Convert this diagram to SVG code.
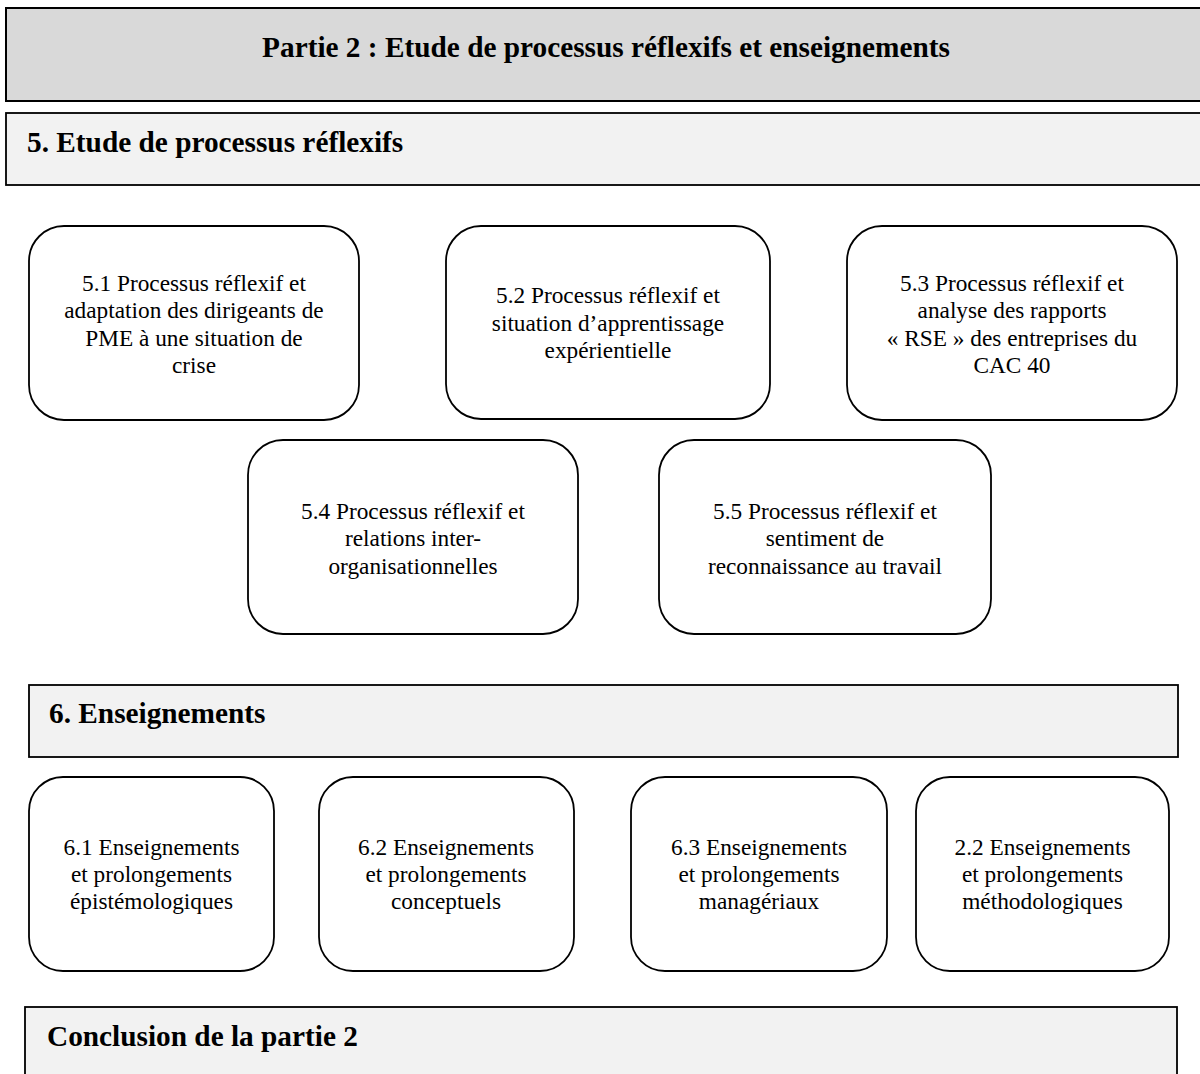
<svg xmlns="http://www.w3.org/2000/svg" width="1200" height="1074" viewBox="0 0 1200 1074">
<style>
.hdr{fill:#d9d9d9;stroke:#000;stroke-width:2}
.sec{fill:#f2f2f2;stroke:#000;stroke-width:1.8}
.node{fill:#fff;stroke:#000;stroke-width:1.8}
text{font-family:'Times New Roman','Liberation Serif',Tinos,serif;fill:#000}
.bt{font-weight:bold;font-size:29.3px}
.t{font-size:23.3px;text-anchor:middle}
</style>
<rect width="1200" height="1074" fill="#fff"/>
<g id="header">
<rect class="hdr" x="6" y="8" width="1210" height="93"/>
<text class="bt" x="606" y="57" text-anchor="middle">Partie 2 : Etude de processus réflexifs et enseignements</text>
</g>
<g id="section5">
<rect class="sec" x="6" y="113" width="1210" height="72"/>
<text class="bt" x="27" y="152">5. Etude de processus réflexifs</text>
</g>
<g id="n51">
<rect class="node" x="29" y="226" width="330" height="194" rx="35"/>
<text class="t" x="194" y="291">5.1 Processus réflexif et</text>
<text class="t" x="194" y="318">adaptation des dirigeants de</text>
<text class="t" x="194" y="346">PME à une situation de</text>
<text class="t" x="194" y="373">crise</text>
</g>
<g id="n52">
<rect class="node" x="446" y="226" width="324" height="193" rx="35"/>
<text class="t" x="608" y="303">5.2 Processus réflexif et</text>
<text class="t" x="608" y="331">situation d’apprentissage</text>
<text class="t" x="608" y="358">expérientielle</text>
</g>
<g id="n53">
<rect class="node" x="847" y="226" width="330" height="194" rx="35"/>
<text class="t" x="1012" y="291">5.3 Processus réflexif et</text>
<text class="t" x="1012" y="318">analyse des rapports</text>
<text class="t" x="1012" y="346">« RSE » des entreprises du</text>
<text class="t" x="1012" y="373">CAC 40</text>
</g>
<g id="n54">
<rect class="node" x="248" y="440" width="330" height="194" rx="35"/>
<text class="t" x="413" y="519">5.4 Processus réflexif et</text>
<text class="t" x="413" y="546">relations inter-</text>
<text class="t" x="413" y="574">organisationnelles</text>
</g>
<g id="n55">
<rect class="node" x="659" y="440" width="332" height="194" rx="35"/>
<text class="t" x="825" y="519">5.5 Processus réflexif et</text>
<text class="t" x="825" y="546">sentiment de</text>
<text class="t" x="825" y="574">reconnaissance au travail</text>
</g>
<g id="section6">
<rect class="sec" x="29" y="685" width="1149" height="72"/>
<text class="bt" x="49" y="723">6. Enseignements</text>
</g>
<g id="n61">
<rect class="node" x="29" y="777" width="245" height="194" rx="34"/>
<text class="t" x="151.5" y="855">6.1 Enseignements</text>
<text class="t" x="151.5" y="882">et prolongements</text>
<text class="t" x="151.5" y="909">épistémologiques</text>
</g>
<g id="n62">
<rect class="node" x="319" y="777" width="255" height="194" rx="34"/>
<text class="t" x="446" y="855">6.2 Enseignements</text>
<text class="t" x="446" y="882">et prolongements</text>
<text class="t" x="446" y="909">conceptuels</text>
</g>
<g id="n63">
<rect class="node" x="631" y="777" width="256" height="194" rx="34"/>
<text class="t" x="759" y="855">6.3 Enseignements</text>
<text class="t" x="759" y="882">et prolongements</text>
<text class="t" x="759" y="909">managériaux</text>
</g>
<g id="n22">
<rect class="node" x="916" y="777" width="253" height="194" rx="34"/>
<text class="t" x="1042.5" y="855">2.2 Enseignements</text>
<text class="t" x="1042.5" y="882">et prolongements</text>
<text class="t" x="1042.5" y="909">méthodologiques</text>
</g>
<g id="conclusion">
<rect class="sec" x="25" y="1007" width="1152" height="90"/>
<text class="bt" x="47" y="1046">Conclusion de la partie 2</text>
</g>
<g id="connectors"></g>
</svg>
